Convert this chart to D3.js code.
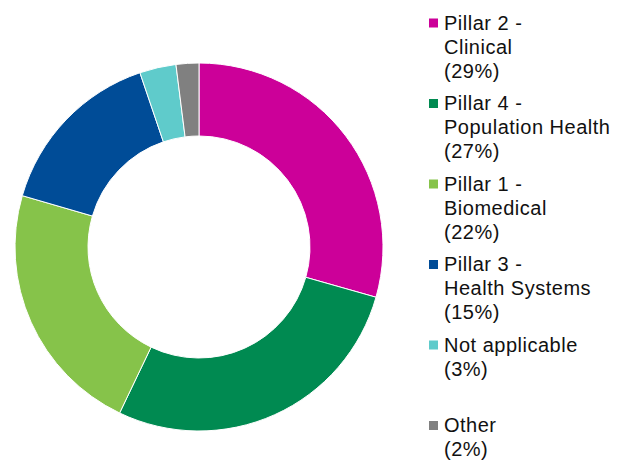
<!DOCTYPE html>
<html>
<head>
<meta charset="utf-8">
<script src="https://cdn.jsdelivr.net/npm/d3@7"></script>
<style>
    body { margin: 0; background: #fff; }
    svg text { font-family: "Liberation Sans", Arial, sans-serif; fill: #111; }
</style>
</head>
<body>
<div id="chart"></div>
<script>
// slice shares (clockwise from 12 o'clock)
const categories = ['Pillar 2 - Clinical', 'Pillar 4 - Population Health', 'Pillar 1 - Biomedical',
                    'Pillar 3 - Health Systems', 'Not applicable', 'Other'];
const shares = [29.4, 27.7, 22.4, 15.3, 3.2, 2.0];
const pctLabels = ['(29%)', '(27%)', '(22%)', '(15%)', '(3%)', '(2%)'];
const legendLines = [
    ['Pillar 2 -', 'Clinical'],
    ['Pillar 4 -', 'Population Health'],
    ['Pillar 1 -', 'Biomedical'],
    ['Pillar 3 -', 'Health Systems'],
    ['Not applicable'],
    ['Other']
];
const colors = ['#cc0099', '#008a51', '#86c34a', '#004c97', '#5fcbcb', '#808080'];

const width = 625, height = 462;
const cx = 199, cy = 247, outerR = 184, innerR = 111;

const svg = d3.select('#chart').append('svg')
    .attr('width', width)
    .attr('height', height);

const data = categories.map((c, i) => ({ name: c, value: shares[i], color: colors[i] }));

const pie = d3.pie().sort(null).value(d => d.value);
const arc = d3.arc().innerRadius(innerR).outerRadius(outerR);

const g = svg.append('g').attr('transform', `translate(${cx},${cy})`);
g.selectAll('path')
    .data(pie(data))
    .enter().append('path')
    .attr('d', arc)
    .attr('fill', d => d.data.color)
    .attr('stroke', '#fff')
    .attr('stroke-width', 1);

// legend
const legend = svg.append('g').attr('transform', 'translate(429,29.5)');
const step = 80.5, lineH = 24;

const item = legend.selectAll('.item')
    .data(data)
    .enter().append('g')
    .attr('class', 'item')
    .attr('transform', (d, i) => `translate(0,${i * step})`);

item.append('rect')
    .attr('x', 0)
    .attr('y', -11)
    .attr('width', 9)
    .attr('height', 9)
    .attr('fill', d => d.color);

item.append('text')
    .attr('x', 15)
    .attr('y', 0)
    .style('font-size', '20px')
    .style('letter-spacing', '0.5px')
    .selectAll('tspan')
    .data((d, i) => legendLines[i].concat([pctLabels[i]]))
    .enter().append('tspan')
    .attr('x', 15)
    .attr('dy', (d, j) => j === 0 ? 0 : lineH)
    .text(d => d);
</script>
</body>
</html>
